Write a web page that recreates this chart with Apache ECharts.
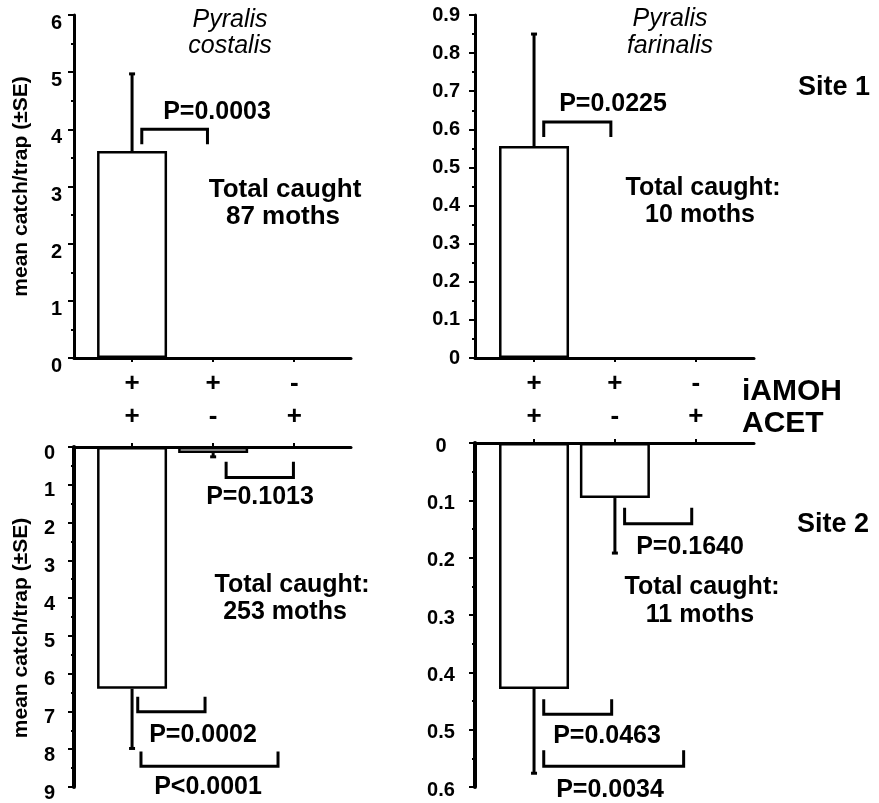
<!DOCTYPE html>
<html><head><meta charset="utf-8">
<script src="https://cdn.jsdelivr.net/npm/echarts@6/dist/echarts.min.js"></script>
<style>html,body{margin:0;padding:0;background:#fff}#c{width:879px;height:803px}</style>
</head><body><div id="c"></div>
<script>
// ---- data ----
const iAMOH = ['+', '+', '-'];
const ACET = ['+', '-', '+'];
const catPos = [1, 2, 3];

const s1CostalisMean = [3.62, 0, 0];
const s1CostalisSE   = [1.35, 0, 0];
const s1FarinalisMean = [0.556, 0, 0];
const s1FarinalisSE   = [0.294, 0, 0];
const s2CostalisMean = [6.40, 0.16, 0];
const s2CostalisSE   = [1.58, 0.10, 0];
const s2FarinalisMean = [0.429, 0.096, 0];
const s2FarinalisSE   = [0.147, 0.096, 0];

// brackets: [x1, x2, yEnd, yLine]
const s1CostalisBrackets = [[1.12, 1.93, 3.74, 4.00]];
const s1FarinalisBrackets = [[1.12, 1.95, 0.580, 0.619]];
const s2CostalisBrackets = [[2.16, 2.99, 0.39, 0.81], [1.07, 1.90, 6.61, 7.01], [1.11, 2.80, 8.06, 8.45]];
const s2FarinalisBrackets = [[2.12, 2.95, 0.113, 0.141], [1.12, 1.96, 0.447, 0.473], [1.12, 2.85, 0.536, 0.564]];

const yTicksTL = [0, 6, 1];
const yTicksTR = [0, 0.9, 0.1];
const yTicksBL = [0, 9, 1];
const yTicksBR = [0, 0.6, 0.1];

// ---- chart ----
const FONT = "'Liberation Sans', Arial, Helvetica, sans-serif";
const chart = echarts.init(document.getElementById('c'));

function xAx(gi, min, max, pos, showLabel) {
  return {
    type: 'value', gridIndex: gi, min: min, max: max, position: pos,
    splitLine: {show: false},
    axisLine: {show: true, onZero: false, lineStyle: {color: '#000', width: 3}},
    axisTick: {show: true, customValues: catPos, length: 4, lineStyle: {color: '#000', width: 2}},
    axisLabel: {
      show: showLabel, customValues: catPos,
      formatter: v => iAMOH[Math.round(v) - 1] + '\n' + ACET[Math.round(v) - 1],
      fontFamily: FONT, fontWeight: 'bold', fontSize: 26, color: '#000',
      lineHeight: 33, margin: 9, verticalAlign: 'top'
    }
  };
}
function yAx(gi, t, inverse, labelOpt, name, nameGap, lw, namePad) {
  return {
    type: 'value', gridIndex: gi, min: t[0], max: t[1], interval: t[2], inverse: inverse,
    splitLine: {show: false},
    axisLine: {show: true, onZero: false, lineStyle: {color: '#000', width: lw}},
    axisTick: {show: true, length: 6, lineStyle: {color: '#000', width: 2}},
    minorTick: {show: true, splitNumber: 2, length: 3, lineStyle: {color: '#000', width: 2}},
    axisLabel: Object.assign({fontFamily: FONT, fontWeight: 'bold', fontSize: 20, color: '#000'}, labelOpt),
    name: name, nameLocation: 'middle', nameRotate: 90, nameGap: nameGap,
    nameTextStyle: {fontFamily: FONT, fontWeight: 'bold', fontSize: 21, color: '#000', padding: namePad || 0}
  };
}
function barSeries(gi, means) {
  return {
    type: 'bar', xAxisIndex: gi, yAxisIndex: gi, barWidth: 70,
    data: means.map((m, i) => m > 0 ? [catPos[i], m] : null).filter(d => d),
    itemStyle: {color: '#fff', borderColor: '#000', borderWidth: 2.5},
    z: 2
  };
}
function errSeries(gi, means, se) {
  return {
    type: 'custom', xAxisIndex: gi, yAxisIndex: gi, z: 3,
    data: means.map((m, i) => [catPos[i], m, se[i]]),
    encode: {x: 0, y: 1},
    renderItem: function (params, api) {
      const x = api.value(0), m = api.value(1), s = api.value(2);
      if (!s) return null;
      const p0 = api.coord([x, m]), p1 = api.coord([x, m + s]);
      return {type: 'group', children: [
        {type: 'line', shape: {x1: p0[0], y1: p0[1], x2: p1[0], y2: p1[1]}, style: {stroke: '#000', lineWidth: 3}},
        {type: 'line', shape: {x1: p1[0] - 3, y1: p1[1], x2: p1[0] + 3, y2: p1[1]}, style: {stroke: '#000', lineWidth: 3}}
      ]};
    }
  };
}
function brSeries(gi, br) {
  return {
    type: 'custom', xAxisIndex: gi, yAxisIndex: gi, z: 3,
    data: br, encode: {x: [0, 1], y: [2, 3]},
    renderItem: function (params, api) {
      const x1 = api.value(0), x2 = api.value(1), ye = api.value(2), yl = api.value(3);
      return {type: 'polyline', shape: {points: [api.coord([x1, ye]), api.coord([x1, yl]), api.coord([x2, yl]), api.coord([x2, ye])]},
        style: {stroke: '#000', lineWidth: 3, fill: null}};
    }
  };
}
function txt(text, x, y, size, align) {
  return {type: 'text', x: x, y: y, z: 10,
    style: {text: text, fontFamily: FONT, fontWeight: 'bold', fontSize: size, fill: '#000', align: align || 'center', verticalAlign: 'middle'}};
}
function itxt(text, x, y) {
  return {type: 'text', x: x, y: y, z: 10,
    style: {text: text, fontFamily: FONT, fontStyle: 'italic', fontWeight: 'normal', fontSize: 25, fill: '#000', align: 'center', verticalAlign: 'middle'}};
}

const yName = 'mean catch/trap (±SE)';

chart.setOption({
  animation: false,
  backgroundColor: '#fff',
  grid: [
    {left: 74, top: 15, width: 277, height: 343},
    {left: 475, top: 15, width: 279, height: 343},
    {left: 74, top: 447, width: 277, height: 343},
    {left: 475, top: 443, width: 279, height: 344}
  ],
  xAxis: [
    xAx(0, 0.284, 3.70, 'bottom', true),
    xAx(1, 0.27, 3.72, 'bottom', true),
    xAx(2, 0.284, 3.70, 'top', false),
    xAx(3, 0.27, 3.72, 'top', false)
  ],
  yAxis: [
    yAx(0, yTicksTL, false, {margin: 12, align: 'right', verticalAlign: 'top', lineHeight: 17}, yName, 42, 3),
    yAx(1, yTicksTR, false, {margin: 15, align: 'right', verticalAlign: 'middle'}, '', 0, 3),
    yAx(2, yTicksBL, true, {margin: 19, align: 'right', verticalAlign: 'top', lineHeight: 12}, yName, 42, 4, [0, 22, 0, 0]),
    yAx(3, yTicksBR, true, {margin: 34, align: 'center', verticalAlign: 'top', lineHeight: 6}, '', 0, 4)
  ],
  series: [
    barSeries(0, s1CostalisMean), errSeries(0, s1CostalisMean, s1CostalisSE), brSeries(0, s1CostalisBrackets),
    barSeries(1, s1FarinalisMean), errSeries(1, s1FarinalisMean, s1FarinalisSE), brSeries(1, s1FarinalisBrackets),
    barSeries(2, s2CostalisMean), errSeries(2, s2CostalisMean, s2CostalisSE), brSeries(2, s2CostalisBrackets),
    barSeries(3, s2FarinalisMean), errSeries(3, s2FarinalisMean, s2FarinalisSE), brSeries(3, s2FarinalisBrackets)
  ],
  graphic: [
    itxt('Pyralis', 230, 20), itxt('costalis', 230, 46),
    itxt('Pyralis', 670, 19), itxt('farinalis', 670, 46),
    txt('P=0.0003', 217, 112, 25),
    txt('Total caught', 285, 190, 26), txt('87 moths', 283, 217, 26),
    txt('P=0.0225', 613, 104, 25),
    txt('Total caught:', 703, 188, 25), txt('10 moths', 700, 215, 25),
    txt('Site 1', 834, 88, 27),
    txt('iAMOH', 742, 392, 30, 'left'), txt('ACET', 742, 424, 30, 'left'),
    txt('P=0.1013', 260, 497, 25),
    txt('Total caught:', 292, 585, 25), txt('253 moths', 285, 612, 25),
    txt('P=0.0002', 203, 735, 25),
    txt('P<0.0001', 208, 787, 25),
    txt('P=0.1640', 690, 547, 25),
    txt('Site 2', 833, 525, 27),
    txt('Total caught:', 702, 587, 25), txt('11 moths', 700, 615, 25),
    txt('P=0.0463', 607, 736, 25),
    txt('P=0.0034', 610, 790, 25)
  ]
});
</script>
</body></html>
